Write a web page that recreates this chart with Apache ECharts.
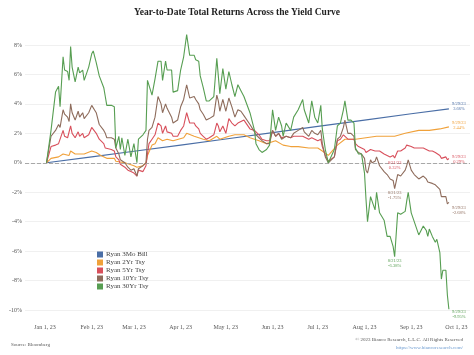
<!DOCTYPE html>
<html><head><meta charset="utf-8">
<script src="https://cdn.jsdelivr.net/npm/echarts@6/dist/echarts.min.js"></script>
<style>html,body{margin:0;padding:0;background:#fff}#c{width:474px;height:355px}</style>
</head><body><div id="c"></div>
<script>
// ---- data (month-day, 2023) ----
const datesLong = [
'01-02','01-05','01-08','01-10','01-11','01-13','01-14','01-16','01-17','01-18',
'01-19','01-21','01-23','01-24','01-26','01-27','01-30','02-01','02-02','02-04',
'02-06','02-07','02-09','02-10','02-11','02-14','02-16','02-17','02-19','02-20',
'02-21','02-23','02-25','02-27','03-01','03-03','03-04','03-07','03-09','03-10',
'03-11','03-13','03-15','03-17','03-19','03-20','03-22','03-23','03-26','03-27',
'03-30','04-01','04-03','04-05','04-07','04-10','04-11','04-13','04-14','04-16',
'04-18','04-20','04-23','04-25','04-26','04-27','04-29','05-01','05-03','05-05',
'05-07','05-09','05-11','05-13','05-17','05-20','05-21','05-23','05-25','05-28',
'05-30','06-01','06-03','06-05','06-07','06-08','06-10','06-13','06-15','06-18',
'06-21','06-22','06-25','06-27','06-29','07-01','07-03','07-04','07-06','07-08',
'07-12','07-14','07-16','07-18','07-19','07-21','07-23','07-25','07-26','07-28',
'07-30','08-01','08-02','08-03','08-05','08-06','08-08','08-09','08-11','08-12',
'08-14','08-16','08-18','08-20','08-21','08-23','08-25','08-28','08-29','08-30',
'09-01','09-03','09-06','09-07','09-09','09-11','09-12','09-13','09-15','09-17',
'09-18','09-20','09-21','09-22','09-24','09-25','09-26'];
const tsy30 = [
0,2.2,4.8,5.2,3.8,7.2,6.3,6.2,5.6,7.9,
6.5,5.5,6.5,6.1,6.3,5.6,6.5,7.4,7.6,6.8,
5.9,5.9,5.1,4.5,3.9,3.9,3.8,1.0,1.8,0.9,
1.7,0.5,1.6,0.4,1.3,0.0,1.6,1.9,2.2,5.6,
5.6,4.6,5.7,6.9,6.9,5.6,6.9,6.3,6.3,4.8,
4.9,6.3,7.2,8.7,7.3,7.3,7.0,6.9,5.9,5.1,
4.2,4.2,4.5,7.1,5.9,4.7,6.4,5.0,6.2,5.3,
4.5,5.3,4.9,4.5,3.4,2.2,1.3,0.9,0.7,0.9,
1.2,3.6,2.2,3.1,2.5,1.8,2.7,2.2,3.1,3.6,
4.3,3.6,2.7,4.2,3.1,2.7,3.9,2.3,0.9,0.0,
0.9,2.5,2.7,3.6,4.2,2.9,2.9,2.7,1.0,0.6,
0.6,-0.7,-2.5,-4.0,-2.3,-2.3,-3.2,-2.0,-3.4,-3.5,
-3.9,-5.0,-5.0,-5.7,-6.38,-3.4,-3.5,-3.3,-2.6,-2.0,
-3.4,-4.0,-4.9,-4.9,-4.3,-4.6,-5.0,-4.5,-5.0,-5.4,
-5.2,-6.1,-7.9,-7.3,-7.3,-9.0,-9.95];
const tsy10 = [
0,1.8,2.2,2.6,2.4,3.6,3.3,3.1,2.8,4.0,
3.4,2.9,3.5,3.1,3.4,3.0,3.4,3.9,3.8,3.4,
2.6,2.5,2.2,2.0,1.7,1.7,1.6,1.0,0.6,0.2,
0.3,0.0,-0.3,-0.5,-0.4,-0.9,-0.4,-0.2,0.0,1.6,
2.2,2.4,3.1,4.5,4.0,3.4,4.0,3.7,3.1,2.7,
2.9,3.8,4.3,5.3,4.4,4.5,4.3,4.0,3.6,3.3,
2.9,3.0,3.2,4.6,4.2,3.5,4.3,3.5,4.4,3.8,
3.1,3.6,3.5,3.2,2.6,2.1,1.9,1.7,1.5,1.3,
1.3,2.2,1.8,2.0,1.6,1.5,1.8,1.7,2.0,2.2,
2.4,2.1,1.8,2.2,2.0,1.9,2.2,1.3,0.4,0.0,
0.4,1.6,1.8,2.4,2.9,2.0,2.0,1.8,0.9,0.7,
0.6,0.3,-0.5,-0.7,0.2,0.0,0.1,0.4,-0.2,-0.3,
-0.6,-0.8,-1.1,-1.2,-1.75,-0.8,-0.9,-0.5,-0.2,0.2,
-0.5,-0.8,-1.1,-1.1,-0.9,-1.1,-1.3,-1.2,-1.4,-1.5,
-1.5,-1.8,-2.3,-2.2,-2.3,-2.8,-2.68];
const tsy5 = [
0,1.1,1.2,1.3,1.2,2.2,1.8,1.7,1.6,2.5,
2.0,1.7,2.1,1.8,2.0,1.7,1.9,2.4,2.5,2.0,
1.6,1.5,1.3,1.0,0.9,0.9,0.8,0.4,0.2,-0.1,
0.0,-0.3,-0.5,-0.6,-0.7,-0.9,-0.5,-0.6,-0.2,0.6,
1.3,1.6,1.9,2.7,2.5,2.0,2.5,2.1,2.0,1.8,
1.8,2.2,2.5,3.4,2.7,2.7,2.5,2.3,2.0,1.8,
1.6,1.7,1.9,2.7,2.5,2.1,2.5,2.0,3.0,2.7,
2.5,2.7,2.8,2.9,2.3,2.2,2.1,1.9,1.6,1.5,
1.5,2.2,1.8,2.0,1.7,1.6,1.8,1.7,1.8,1.8,
1.8,1.7,1.6,1.7,1.6,1.5,1.6,1.1,0.5,0.1,
0.4,1.5,1.6,1.9,2.0,1.6,1.6,1.6,1.3,1.1,
1.0,0.9,0.7,0.6,0.9,0.9,0.8,0.9,0.8,0.8,
0.6,0.5,0.4,0.5,0.32,0.8,0.8,1.0,1.2,1.3,
1.1,1.0,1.0,0.9,1.0,0.9,0.9,0.8,0.8,0.7,
0.7,0.5,0.3,0.4,0.4,0.2,0.29];
const dates2 = [
'01-02','01-05','01-10','01-13','01-17','01-18','01-21','01-24','01-27','02-01',
'02-02','02-04','02-07','02-11','02-16','02-17','02-23','03-01','03-03','03-07',
'03-09','03-10','03-13','03-15','03-17','03-20','03-23','03-27','04-03','04-05',
'04-10','04-16','04-20','04-25','04-27','05-03','05-07','05-13','05-17','05-23',
'05-28','06-03','06-08','06-13','06-18','06-25','07-01','07-04','07-08','07-14',
'07-19','07-26','08-02','08-09','08-16','08-21','08-28','09-06','09-13','09-20',
'09-26'];
const tsy2 = [
0,0.3,0.4,0.6,0.5,0.8,0.6,0.6,0.6,0.8,
0.9,0.7,0.5,0.3,0.3,0.1,0.0,-0.2,-0.3,-0.2,
0.0,0.5,1.2,1.3,1.7,1.5,1.6,1.5,1.7,2.0,
1.8,1.6,1.5,1.8,1.6,1.8,1.9,1.9,1.7,1.5,
1.3,1.5,1.2,1.1,1.1,1.0,1.0,0.8,0.5,1.2,
1.6,1.6,1.7,1.8,1.8,1.8,2.0,2.2,2.2,2.3,
2.44];
const datesBill = ['01-02','02-01','03-01','04-01','05-01','06-01','07-01','08-01','09-01','09-26'];
const bill3m = [0,0.40,0.78,1.20,1.62,2.05,2.47,2.90,3.33,3.66];

const seriesNames = ['Ryan 3Mo Bill','Ryan 2Yr Tsy','Ryan 5Yr Tsy','Ryan 10Yr Tsy','Ryan 30Yr Tsy'];
const seriesColors = ['#4a6ea6','#f0a13a','#d8505c','#8e6c5c','#579e52'];
const endLabel = '9/29/23';
const lowLabel = '8/21/23';
const lowDate = '08-21';

function ts(s){const p=s.split('-').map(Number);return new Date(2023,p[0]-1,p[1]).getTime();}
function pairs(d,v){return d.map((s,i)=>[ts(s),v[i]]);}
const DAY=864e5, jan1=new Date(2023,0,1).getTime();
const MON=['Jan','Feb','Mar','Apr','May','Jun','Jul','Aug','Sep','Oct','Nov','Dec'];
const FONT='Liberation Serif';

function mk(d,v,idx,extra){
  return Object.assign({coord:[ts(d[idx]),v[idx]],value:v[idx]},extra);
}
function ann(dates,vals,color,endOff,withLow){
  const n=vals.length-1;
  const arr=[mk(dates,vals,n,{label:{formatter:endLabel+'\n'+vals[n].toFixed(2)+'%',position:'right',distance:2,offset:endOff}})];
  if(withLow){
    const i=dates.indexOf(lowDate);
    arr.push(mk(dates,vals,i,{label:{formatter:lowLabel+'\n'+vals[i].toFixed(2)+'%',position:'bottom',distance:2}}));
  }
  return {symbol:'circle',symbolSize:0.1,silent:true,
    label:{show:true,color:color,fontSize:4.5,lineHeight:5,fontFamily:FONT,align:'center'},
    data:arr};
}
const sets=[
  [datesBill,bill3m,[8,-3],false],
  [dates2,tsy2,[8,-2],false],
  [datesLong,tsy5,[8,1],true],
  [datesLong,tsy10,[8,8],true],
  [datesLong,tsy30,[8,5],true]
];
const series=sets.map((s,k)=>({
  name:seriesNames[k],type:'line',data:pairs(s[0],s[1]),showSymbol:false,clip:false,
  lineStyle:{width:1.1,color:seriesColors[k]},itemStyle:{color:seriesColors[k]},
  markPoint:ann(s[0],s[1],seriesColors[k],s[2],s[3]),z:2+k
}));
series[0].markLine={silent:true,symbol:'none',label:{show:false},
  lineStyle:{color:'#a8a8a8',type:'dashed',width:1},data:[{yAxis:0}]};

const chart=echarts.init(document.getElementById('c'),null,{renderer:'canvas'});
chart.setOption({
  animation:false,backgroundColor:'#fff',
  title:[
    {text:'Year-to-Date Total Returns Across the Yield Curve',left:'center',top:3,
     textStyle:{fontFamily:FONT,fontSize:9.5,fontWeight:'bold',color:'#222'}},
    {text:'Source: Bloomberg',left:6,top:337,textStyle:{fontFamily:FONT,fontSize:5,fontWeight:'normal',color:'#555'}},
    {text:'© 2023 Bianco Research, L.L.C. All Rights Reserved',right:6,top:332,textStyle:{fontFamily:FONT,fontSize:5,fontWeight:'normal',color:'#555'}},
    {text:'https://www.biancoresearch.com/',right:6,top:340,textStyle:{fontFamily:FONT,fontSize:5,fontWeight:'normal',color:'#6a9ad0'}}
  ],
  legend:{orient:'vertical',left:92,top:246,itemWidth:6,itemHeight:6,itemGap:1,icon:'rect',
    data:seriesNames,textStyle:{fontFamily:FONT,fontSize:7,color:'#444',padding:[0,0,0,-2]}},
  grid:{left:25,right:4,top:45,bottom:45},
  xAxis:{type:'time',min:jan1-13.27*DAY,max:jan1+282*DAY,splitNumber:10,minInterval:28*DAY,maxInterval:31*DAY,
    axisLine:{show:false},axisTick:{show:false},splitLine:{show:false},
    axisLabel:{margin:14,fontFamily:FONT,fontSize:6,color:'#555',hideOverlap:false,
      formatter:function(v){const d=new Date(v);return MON[d.getMonth()]+' '+d.getDate()+', '+String(d.getFullYear()).slice(2);}}},
  yAxis:{type:'value',min:-10,max:8,interval:2,
    axisLine:{show:false},axisTick:{show:false},
    splitLine:{lineStyle:{color:'#f0f0f0',width:1}},
    axisLabel:{margin:3,fontFamily:FONT,fontSize:6,color:'#555',formatter:'{value}%'}},
  series:series
});
</script></body></html>
